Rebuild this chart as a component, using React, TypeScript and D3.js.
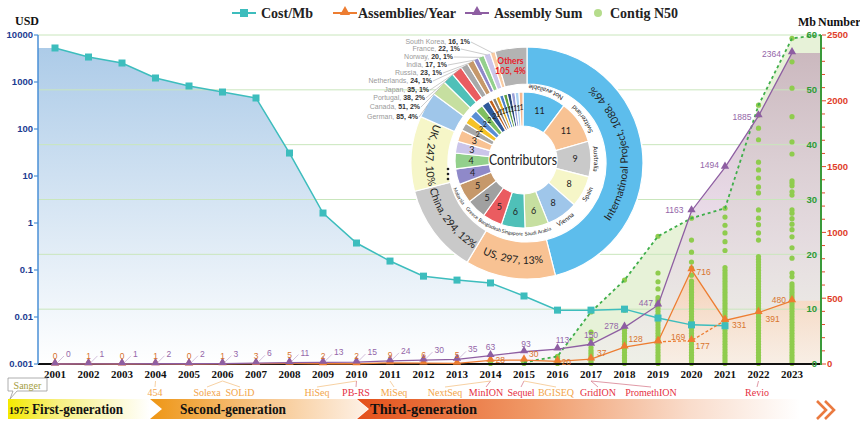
import { useEffect, useRef } from 'react'
import * as d3 from 'd3'

const years = [2001, 2002, 2003, 2004, 2005, 2006, 2007, 2008, 2009, 2010, 2011, 2012, 2013, 2014, 2015, 2016, 2017, 2018, 2019, 2020, 2021, 2022, 2023]

// cost per Mb (USD), only up to 2021
const costYears = [2001, 2002, 2003, 2004, 2005, 2006, 2007, 2008, 2009, 2010, 2011, 2012, 2013, 2014, 2015, 2016, 2017, 2018, 2019, 2020, 2021]
const costPerMb = [5292, 3400, 2535, 1216, 822, 612, 457, 30.8, 1.63, 0.375, 0.155, 0.074, 0.061, 0.053, 0.028, 0.014, 0.014, 0.0147, 0.0095, 0.0068, 0.0065]

const assembliesPerYear = [0, 1, 0, 1, 0, 1, 3, 5, 2, 2, 9, 6, 5, 28, 30, 20, 37, 128, 169, 716, 331, 391, 480]
const assemblySum = [0, 1, 1, 2, 2, 3, 6, 11, 13, 15, 24, 30, 35, 63, 93, 113, 150, 278, 447, 1163, 1494, 1885, 2364]
const altYears = [2019, 2020, 2021]
const assembliesAlt = [169, 177, 331]

const n50MaxYears = [2015, 2016, 2017, 2018, 2019, 2020, 2021, 2022, 2023]
const n50Max = [0.3, 1.4, 9.5, 15.3, 23.3, 26.6, 28.4, 47.2, 59.4]

const n50Dots: [number, number[]][] = [
    [2014, [0.1, 0.3]],
    [2015, [0.1, 0.3, 0.5]],
    [2016, [0.1, 0.4, 0.7, 1.0, 1.4]],
    [2017, [0.1, 0.5, 0.9, 1.3, 1.7, 2.1, 2.5, 3.0, 4.5, 5.8, 9.5]],
    [2018, [0.1, 0.6, 1.1, 1.6, 2.1, 2.6, 3.1, 3.6, 4.1, 4.6, 5.1, 5.6, 6.1, 6.6, 9.8, 15.3]],
    [2019, [0.1, 0.6, 1.1, 1.6, 2.1, 2.6, 3.1, 3.6, 4.1, 4.6, 5.1, 5.6, 6.1, 6.6, 7.1, 7.6, 8.1, 8.6, 9.1, 9.6, 10.1, 10.6, 11.1, 11.6, 12.1, 13.7, 15.0, 16.6, 23.3]],
    [2020, [0.1, 0.6, 1.1, 1.6, 2.1, 2.6, 3.1, 3.6, 4.1, 4.6, 5.1, 5.6, 6.1, 6.6, 7.1, 7.6, 8.1, 8.6, 9.1, 9.6, 10.1, 10.6, 11.1, 11.6, 12.1, 12.6, 13.1, 13.6, 14.1, 14.6, 15.1, 16.2, 17.5, 18.6, 20.4, 22.6, 26.6]],
    [2021, [0.1, 0.6, 1.1, 1.6, 2.1, 2.6, 3.1, 3.6, 4.1, 4.6, 5.1, 5.6, 6.1, 6.6, 7.1, 7.6, 8.1, 8.6, 9.1, 9.6, 10.1, 10.6, 11.1, 11.6, 12.1, 12.6, 13.1, 13.6, 14.1, 14.6, 15.1, 15.6, 16.1, 16.6, 17.1, 17.6, 20.7, 22.3, 23.9, 25.3, 26.8, 28.4]],
    [2022, [0.1, 0.6, 1.1, 1.6, 2.1, 2.6, 3.1, 3.6, 4.1, 4.6, 5.1, 5.6, 6.1, 6.6, 7.1, 7.6, 8.1, 8.6, 9.1, 9.6, 10.1, 10.6, 11.1, 11.6, 12.1, 12.6, 13.1, 13.6, 14.1, 14.6, 15.1, 15.6, 16.1, 16.6, 17.1, 17.6, 18.1, 18.6, 19.1, 19.6, 22.6, 23.9, 25.4, 26.6, 28.1, 31.2, 32.3, 33.9, 35.4, 36.8, 40.9, 43.0, 45.4, 47.2]],
    [2023, [0.1, 0.6, 1.1, 1.6, 2.1, 2.6, 3.1, 3.6, 4.1, 4.6, 5.1, 5.6, 6.1, 6.6, 7.1, 7.6, 8.1, 8.6, 9.1, 9.6, 10.1, 10.6, 11.1, 11.6, 12.1, 12.6, 13.1, 13.6, 14.1, 14.6, 15.9, 16.6, 19.3, 21.2, 23.2, 24.5, 25.5, 26.5, 27.5, 28.1, 30.8, 31.4, 32.5, 33.0, 33.4, 38.3, 40.5, 45.1, 50.3, 55.1, 59.4]]
]

const costTicks = [10000, 1000, 100, 10, 1, 0.1, 0.01, 0.001]
const costTickLabels = ['10000', '1000', '100', '10', '1', '0.1', '0.01', '0.001']
const mbTicks = [0, 10, 20, 30, 40, 50, 60]
const numberTicks = [0, 500, 1000, 1500, 2000, 2500]

const countries = ['Internatinoal Project', 'US', 'China', 'UK', 'German', 'Canada', 'Portugal', 'Japan', 'Netherlands', 'Russia', 'India', 'Norway', 'France', 'South Korea', 'Others']
const countryCounts = [1088, 297, 294, 247, 85, 51, 38, 35, 24, 23, 17, 20, 22, 16, 105]
const countryShares = ['46%', '13%', '12%', '10%', '4%', '2%', '2%', '1%', '1%', '1%', '1%', '1%', '1%', '1%', '4%']
const countryColors = ['#5dbdec', '#f8c293', '#c9c9c9', '#f6f6c8', '#9fc6ea', '#c6dfa0', '#4fc0b8', '#ea5c60', '#a8a8a8', '#c6986a', '#8f89c9', '#93d08c', '#cbc5ea', '#f9cba3', '#b3b3b3']

const contributorCounts = [11, 11, 9, 8, 8, 6, 6, 5, 5, 5, 4, 4, 3, 3, 2, 2, 2, 2, 2, 1, 1, 1, 1, 1, 1, 1, 1, 1]
const contributorNames = ['Not available', 'Switzerland', 'Australia', 'Spain', 'Vienna', 'Saudi Arabia', 'Singapore', 'Bangladesh', 'Greece', 'Malaysia']
const contributorColors = ['#5dbdec', '#f8c293', '#c9c9c9', '#f6f6c8', '#9fc6ea', '#c6dfa0', '#4fc0b8', '#ea5c60', '#a0a0a0', '#c6986a', '#8f89c9', '#93d08c', '#cbc5ea', '#f8c293', '#a8a8a8', '#f5c226', '#5a8fd4', '#7fbf60', '#2f5a9a', '#c0601a', '#808080', '#e8b020', '#4a80c8', '#60a040', '#2a4a80', '#9aa0d8', '#a8d0f0', '#f4b890']

const platformNames = ['454', 'Solexa', 'SOLiD', 'HiSeq', 'PB-RS', 'MiSeq', 'NextSeq', 'MinION', 'Sequel', 'BGISEQ', 'GridION', 'PromethION', 'Revio']
const platformYears = [2004, 2006, 2006, 2010, 2010, 2011, 2014, 2014, 2015, 2015, 2017, 2017, 2022]
const platformGen = [2, 2, 2, 2, 3, 2, 2, 3, 3, 2, 3, 3, 3]

const SERIF = "'Liberation Serif', 'Times New Roman', serif"
const SANS = "'Liberation Sans', Arial, sans-serif"
const CAL = "Lato, 'Open Sans', sans-serif"

const TEAL = '#3dbdbd'
const ORANGE = '#ed7d31'
const PURPLE = '#8e5ea2'
const GREEN = '#8fcc4e'

export default function App() {
    const svgRef = useRef<SVGSVGElement>(null)

    useEffect(() => {
        if (!svgRef.current) return
        const svg = d3.select(svgRef.current)
        svg.selectAll('*').remove()

        const X0 = 38, X1 = 821, Y0 = 364
        const x = d3.scalePoint<number>().domain(years).range([55, 792])
        const yCost = d3.scaleLog().domain([0.001, 10000]).range([Y0, 35])
        const yNum = d3.scaleLinear().domain([0, 2500]).range([Y0, 35])
        const yMb = d3.scaleLinear().domain([0, 60]).range([Y0, 35])
        const px = (yr: number) => x(yr) as number

        // gradients
        const defs = svg.append('defs')
        const grad = (id: string, x1: number, y1: number, x2: number, y2: number, stops: [number, string, number][]) => {
            const g = defs.append('linearGradient').attr('id', id)
                .attr('gradientUnits', 'userSpaceOnUse')
                .attr('x1', x1).attr('y1', y1).attr('x2', x2).attr('y2', y2)
            stops.forEach(([o, c, op]) => g.append('stop').attr('offset', o).attr('stop-color', c).attr('stop-opacity', op))
        }
        grad('costFill', 0, 35, 0, 364, [[0, '#a9c9e7', 1], [0.55, '#d9e7f4', 1], [1, '#ffffff', 1]])
        grad('sumFill', 0, 53, 0, 364, [[0, '#c4aab8', 0.8], [0.6, '#e3cfe3', 0.65], [1, '#f6edf6', 0.5]])
        grad('yearFill', 0, 270, 0, 364, [[0, '#f8cba9', 0.8], [1, '#fdeee4', 0.65]])
        grad('gen1', 8, 0, 150, 0, [[0, '#f4e900', 1], [0.35, '#f7ef80', 1], [1, '#ffffff', 1]])
        grad('gen2', 150, 0, 360, 0, [[0, '#ee9615', 1], [0.55, '#f7c68d', 1], [1, '#fdeee0', 1]])
        grad('gen3', 357, 0, 800, 0, [[0, '#e4501a', 1], [0.4, '#f09a68', 1], [0.75, '#f9dccb', 1], [1, '#ffffff', 1]])

        const area = d3.area<[number, number]>().x(d => d[0]).y0(Y0).y1(d => d[1])
        const line = d3.line<[number, number]>().x(d => d[0]).y(d => d[1])

        // cost area
        const costPts: [number, number][] = costYears.map((yr, i) => [px(yr), yCost(costPerMb[i])])
        svg.append('path')
            .attr('d', area([[X0, costPts[0][1]], ...costPts]))
            .attr('fill', 'url(#costFill)')

        // N50 envelope area
        const n50Pts: [number, number][] = n50MaxYears.map((yr, i) => [px(yr), yMb(n50Max[i])])
        svg.append('path')
            .attr('d', area([...n50Pts, [X1, yMb(60)]]))
            .attr('fill', '#e7f2d8')

        // assembly sum area
        const sumPts: [number, number][] = years.map((yr, i) => [px(yr), yNum(assemblySum[i])])
        svg.append('path')
            .attr('d', area([...sumPts.slice(12), [X1, sumPts[22][1]]]))
            .attr('fill', 'url(#sumFill)')

        // assemblies per year area
        const yearPts: [number, number][] = years.map((yr, i) => [px(yr), yNum(assembliesPerYear[i])])
        svg.append('path')
            .attr('d', area([...yearPts.slice(18), [X1, yearPts[22][1]]]))
            .attr('fill', 'url(#yearFill)')

        // grid lines (Mb axis)
        svg.append('g').selectAll('line').data(mbTicks.slice(1)).enter().append('line')
            .attr('x1', X0).attr('x2', X1)
            .attr('y1', d => yMb(d)).attr('y2', d => yMb(d))
            .attr('stroke', '#c9e6bc').attr('stroke-width', 1)

        // contig N50 dots
        const dots: [number, number][] = []
        n50Dots.forEach(([yr, vals]) => vals.forEach(v => dots.push([yr, v])))
        svg.append('g').selectAll('circle').data(dots).enter().append('circle')
            .attr('cx', d => px(d[0])).attr('cy', d => yMb(d[1]))
            .attr('r', 2.6).attr('fill', GREEN)

        svg.append('path')
            .attr('d', line([...n50Pts, [X1, yMb(60)]]))
            .attr('fill', 'none').attr('stroke', '#3fae4a')
            .attr('stroke-width', 1.8).attr('stroke-dasharray', '3,3')

        // cost line + squares
        svg.append('path').attr('d', line(costPts))
            .attr('fill', 'none').attr('stroke', TEAL).attr('stroke-width', 1.5)
        svg.append('g').selectAll('rect').data(costPts).enter().append('rect')
            .attr('x', d => d[0] - 3.5).attr('y', d => d[1] - 3.5)
            .attr('width', 7).attr('height', 7).attr('fill', TEAL)

        // axes frame
        svg.append('line').attr('x1', X0).attr('x2', X1).attr('y1', Y0).attr('y2', Y0)
            .attr('stroke', '#111').attr('stroke-width', 2)
        svg.append('line').attr('x1', X0).attr('x2', X0).attr('y1', 35).attr('y2', Y0)
            .attr('stroke', '#4a8fd6').attr('stroke-width', 1.5)
        svg.append('line').attr('x1', X1).attr('x2', X1).attr('y1', 35).attr('y2', Y0 + 1)
            .attr('stroke', '#3a9a3a').attr('stroke-width', 2)

        // orange lines
        svg.append('path').attr('d', line(yearPts))
            .attr('fill', 'none').attr('stroke', ORANGE).attr('stroke-width', 1.3)
        const altPts: [number, number][] = altYears.map((yr, i) => [px(yr), yNum(assembliesAlt[i])])
        svg.append('path').attr('d', line(altPts))
            .attr('fill', 'none').attr('stroke', ORANGE).attr('stroke-width', 1.3).attr('stroke-dasharray', '3,2')

        // purple line
        svg.append('path').attr('d', line(sumPts))
            .attr('fill', 'none').attr('stroke', PURPLE).attr('stroke-width', 1.3)

        const tri = d3.symbol().type(d3.symbolTriangle).size(30)
        svg.append('g').selectAll('path').data([...yearPts, ...altPts]).enter().append('path')
            .attr('d', tri()).attr('transform', d => `translate(${d[0]},${d[1] - 1})`).attr('fill', ORANGE)
        svg.append('g').selectAll('path').data(sumPts).enter().append('path')
            .attr('d', tri()).attr('transform', d => `translate(${d[0]},${d[1] - 1})`).attr('fill', PURPLE)

        // data labels
        const orangeOff: [number, number, string][] = [
            ...d3.range(13).map(() => [0, -5, 'middle'] as [number, number, string]),
            [5, 3, 'start'], [5, -3, 'start'], [4, 4, 'start'], [6, -3, 'start'], [4, -5, 'start'],
            [13, -2, 'start'], [5, 5, 'start'], [7, 8, 'start'], [7, 9, 'start'], [-6, 2, 'end']
        ]
        const lbl = svg.append('g').style('font-family', SANS).style('font-size', '8.5px')
        yearPts.forEach((p, i) => {
            const [dx, dy, anc] = orangeOff[i]
            lbl.append('text').attr('x', p[0] + dx).attr('y', p[1] + dy)
                .attr('text-anchor', anc).attr('fill', '#d8742e').text(assembliesPerYear[i])
        })
        lbl.append('text').attr('x', altPts[1][0] + 4).attr('y', altPts[1][1] + 8)
            .attr('fill', '#d8742e').text(assembliesAlt[1])

        const purpleOff: [number, number, string][] = [
            [0, -6, 'middle'], [2, -5, 'middle'], [5, -6, 'middle'], [0, -6, 'middle'],
            [-6, 2, 'end'], [-5, 1, 'end'], [-8, 2, 'end'], [-6, 1, 'end'], [-7, 4, 'end'], [-11, 4, 'end']
        ]
        sumPts.forEach((p, i) => {
            if (i < 13) {
                lbl.append('line').attr('x1', p[0] + 2).attr('y1', p[1] - 1).attr('x2', p[0] + 9).attr('y2', p[1] - 8)
                    .attr('stroke', '#b596c4').attr('stroke-width', 0.6)
                lbl.append('text').attr('x', p[0] + 11).attr('y', p[1] - 7)
                    .attr('fill', '#9466a8').text(assemblySum[i])
            } else {
                const [dx, dy, anc] = purpleOff[i - 13]
                lbl.append('text').attr('x', p[0] + dx).attr('y', p[1] + dy)
                    .attr('text-anchor', anc).attr('fill', '#9466a8').text(assemblySum[i])
            }
        })

        // left axis
        const la = svg.append('g').style('font-family', SANS).style('font-weight', 'bold').style('font-size', '9.5px')
        costTicks.forEach((t, i) => {
            la.append('line').attr('x1', X0 - 4).attr('x2', X0).attr('y1', yCost(t)).attr('y2', yCost(t))
                .attr('stroke', '#4a8fd6').attr('stroke-width', 1.2)
            la.append('text').attr('x', X0 - 5).attr('y', yCost(t) + 3.3).attr('text-anchor', 'end')
                .attr('fill', '#1d3c92').text(costTickLabels[i])
        })

        // right axes
        const ra = svg.append('g').style('font-family', SANS).style('font-weight', 'bold').style('font-size', '9.5px')
        mbTicks.forEach(t => {
            ra.append('text').attr('x', X1 - 4).attr('y', yMb(t) + 3.3).attr('text-anchor', 'end')
                .attr('fill', '#2e9a36').text(t)
        })
        d3.range(0, 2501, 100).forEach(t => {
            ra.append('line').attr('x1', X1 + 1).attr('x2', X1 + (t % 500 === 0 ? 5 : 4))
                .attr('y1', yNum(t)).attr('y2', yNum(t)).attr('stroke', '#e0482a').attr('stroke-width', 1)
        })
        numberTicks.forEach(t => {
            ra.append('text').attr('x', X1 + 6).attr('y', yNum(t) + 3.3)
                .attr('fill', '#e0402a').text(t)
        })

        // axis titles
        const tt = svg.append('g').style('font-family', SERIF).style('font-weight', 'bold').style('font-size', '12px').attr('fill', '#111')
        tt.append('text').attr('x', 15).attr('y', 25).text('USD')
        tt.append('text').attr('x', 798).attr('y', 26).text('Mb')
        tt.append('text').attr('x', 818).attr('y', 26).text('Number')

        // year labels
        const yl = svg.append('g').style('font-family', SERIF).style('font-weight', 'bold').style('font-size', '11px')
        years.forEach(yr => {
            yl.append('text').attr('x', px(yr)).attr('y', 378).attr('text-anchor', 'middle').attr('fill', '#111').text(yr)
        })

        // legend
        const lg = svg.append('g').style('font-family', SERIF).style('font-weight', 'bold').style('font-size', '14px').attr('fill', '#222')
        lg.append('line').attr('x1', 232).attr('x2', 256).attr('y1', 13).attr('y2', 13).attr('stroke', TEAL).attr('stroke-width', 2)
        lg.append('rect').attr('x', 240).attr('y', 9).attr('width', 8).attr('height', 8).attr('fill', TEAL)
        lg.append('text').attr('x', 261).attr('y', 18).text('Cost/Mb')
        lg.append('line').attr('x1', 333).attr('x2', 357).attr('y1', 13).attr('y2', 13).attr('stroke', ORANGE).attr('stroke-width', 2)
        lg.append('path').attr('d', d3.symbol().type(d3.symbolTriangle).size(45)()).attr('transform', 'translate(345,12)').attr('fill', ORANGE)
        lg.append('text').attr('x', 358).attr('y', 18).text('Assemblies/Year')
        lg.append('line').attr('x1', 465).attr('x2', 489).attr('y1', 13).attr('y2', 13).attr('stroke', PURPLE).attr('stroke-width', 2)
        lg.append('path').attr('d', d3.symbol().type(d3.symbolTriangle).size(45)()).attr('transform', 'translate(477,12)').attr('fill', PURPLE)
        lg.append('text').attr('x', 494).attr('y', 18).text('Assembly Sum')
        lg.append('circle').attr('cx', 598).attr('cy', 13).attr('r', 4).attr('fill', '#b5dc8c')
        lg.append('text').attr('x', 610).attr('y', 18).text('Contig N50')

        // ---- donut ----
        const oc = [527, 163]
        const ic = [523, 160]
        const rad = Math.PI / 180
        const polar = (c: number[], r: number, a: number) => [c[0] + r * Math.sin(a), c[1] - r * Math.cos(a)]
        const arcD = (c: number[], r: number, a0: number, a1: number) => {
            // from a0 to a1 (degrees); sweep 1 if increasing
            const [sx, sy] = polar(c, r, a0 * rad)
            const [ex, ey] = polar(c, r, a1 * rad)
            const large = Math.abs(a1 - a0) > 180 ? 1 : 0
            return `M${sx},${sy} A${r},${r} 0 ${large} ${a1 > a0 ? 1 : 0} ${ex},${ey}`
        }

        const dg = svg.append('g')
        dg.append('circle').attr('cx', oc[0]).attr('cy', oc[1]).attr('r', 117).attr('fill', '#fff')

        const outerPie = d3.pie<number>().sort(null).value(d => d)(countryCounts)
        const outerArc = d3.arc<d3.PieArcDatum<number>>().innerRadius(79).outerRadius(116)
        dg.append('g').attr('transform', `translate(${oc[0]},${oc[1]})`)
            .selectAll('path').data(outerPie).enter().append('path')
            .attr('d', outerArc).attr('fill', (d, i) => countryColors[i])
            .attr('stroke', '#fff').attr('stroke-width', 1.2)

        // curved labels on big segments
        outerPie.slice(0, 4).forEach((d, i) => {
            const a0 = d.startAngle / rad, a1 = d.endAngle / rad
            const id = `oLab${i}`
            defs.append('path').attr('id', id).attr('d', arcD(oc, 101, a1 + 5, a0 - 5))
            dg.append('text').style('font-family', CAL).style('font-size', '10.5px').attr('fill', '#222')
                .append('textPath').attr('href', `#${id}`).attr('startOffset', '50%').attr('text-anchor', 'middle')
                .text(`${countries[i]}, ${countryCounts[i]}, ${countryShares[i]}`)
        })

        // others label
        const oth = outerArc.centroid(outerPie[14])
        const othT = dg.append('text').attr('text-anchor', 'middle').style('font-family', CAL).style('font-size', '8.5px')
            .style('font-weight', 'bold').attr('fill', '#e8202a')
        othT.append('tspan').attr('x', oc[0] + oth[0] - 3).attr('y', oc[1] + oth[1] - 2).text('Others')
        othT.append('tspan').attr('x', oc[0] + oth[0] - 3).attr('y', oc[1] + oth[1] + 8).text(`${countryCounts[14]}, ${countryShares[14]}`)

        // small country labels with leaders
        const smallEndX = [418, 420, 425, 429, 432, 442, 447, 453, 460, 470]
        const smallY = [119, 109, 100, 92, 83, 75, 67, 59, 51, 44]
        outerPie.slice(4, 14).forEach((d, k) => {
            const i = k + 4
            const mid = (d.startAngle + d.endAngle) / 2
            const [ex, ey] = polar(oc, 115, mid)
            dg.append('line').attr('x1', smallEndX[k] + 1).attr('y1', smallY[k] - 2)
                .attr('x2', ex).attr('y2', ey).attr('stroke', '#aaa').attr('stroke-width', 0.6)
            const t = dg.append('text').attr('x', smallEndX[k]).attr('y', smallY[k])
                .attr('text-anchor', 'end').style('font-family', SANS).style('font-size', '7px')
            t.append('tspan').attr('fill', '#9a9a9a').text(`${countries[i]}, `)
            t.append('tspan').attr('fill', '#333').style('font-weight', 'bold').text(`${countryCounts[i]}, ${countryShares[i]}`)
        })

        // inner donut
        const innerPie = d3.pie<number>().sort(null).value(d => d)(contributorCounts)
        const innerArc = d3.arc<d3.PieArcDatum<number>>().innerRadius(34).outerRadius(68)
        const ig = dg.append('g').attr('transform', `translate(${ic[0]},${ic[1]})`)
        ig.selectAll('path').data(innerPie).enter().append('path')
            .attr('d', innerArc).attr('fill', (d, i) => contributorColors[i])
            .attr('stroke', '#fff').attr('stroke-width', 1.2)
        const numArc = d3.arc<d3.PieArcDatum<number>>().innerRadius(52).outerRadius(52)
        ig.selectAll('text').data(innerPie).enter().append('text')
            .attr('transform', d => `translate(${numArc.centroid(d)})`)
            .attr('dy', '0.35em').attr('text-anchor', 'middle')
            .style('font-family', CAL).style('font-size', d => d.data >= 3 ? '9px' : '7px')
            .attr('fill', '#222').text(d => d.data)

        innerPie.slice(0, contributorNames.length).forEach((d, i) => {
            const mid = (d.startAngle + d.endAngle) / 2 / rad
            const outward = mid > 80 && mid < 100
            const id = `iLab${i}`
            defs.append('path').attr('id', id)
                .attr('d', outward ? arcD(ic, 71, mid - 40, mid + 40) : arcD(ic, 75.5, mid + 40, mid - 40))
            dg.append('text').style('font-family', CAL).style('font-size', i < 5 ? '6.5px' : '5px').attr('fill', '#222')
                .append('textPath').attr('href', `#${id}`).attr('startOffset', '50%').attr('text-anchor', 'middle')
                .text(contributorNames[i])
        })
        ;[169, 174, 179].forEach(yy => {
            dg.append('circle').attr('cx', 448).attr('cy', yy).attr('r', 1.3).attr('fill', '#222')
        })
        dg.append('text').attr('x', ic[0]).attr('y', ic[1] + 5).attr('text-anchor', 'middle')
            .style('font-family', CAL).style('font-size', '15px').attr('fill', '#222')
            .attr('textLength', 68).attr('lengthAdjust', 'spacingAndGlyphs').text('Contributors')

        // ---- timeline ----
        const tl = svg.append('g')
        tl.append('path').attr('d', 'M8,399 L150,399 L162,409 L150,419 L8,419 Z').attr('fill', 'url(#gen1)')
        tl.append('path').attr('d', 'M150,399 L356,399 L368,409 L356,419 L150,419 L162,409 Z').attr('fill', 'url(#gen2)')
        tl.append('path').attr('d', 'M357,399 L805,399 L805,419 L357,419 L369,409 Z').attr('fill', 'url(#gen3)')
        ;[817, 825].forEach(cx => {
            tl.append('path').attr('d', `M${cx},401 L${cx + 9},410 L${cx},419`)
                .attr('fill', 'none').attr('stroke', '#ea7a40').attr('stroke-width', 2.6)
        })
        const gt = tl.append('g').style('font-family', SERIF).style('font-weight', 'bold').attr('fill', '#111')
        gt.append('text').attr('x', 9).attr('y', 414).style('font-size', '10px').text('1975')
        gt.append('text').attr('x', 32).attr('y', 414).style('font-size', '14px').attr('textLength', 91).attr('lengthAdjust', 'spacingAndGlyphs').text('First-generation')
        gt.append('text').attr('x', 180).attr('y', 414).style('font-size', '14px').attr('textLength', 106).attr('lengthAdjust', 'spacingAndGlyphs').text('Second-generation')
        gt.append('text').attr('x', 370).attr('y', 414).style('font-size', '14px').attr('textLength', 107).attr('lengthAdjust', 'spacingAndGlyphs').text('Third-generation')

        // Sanger callout
        tl.append('path').attr('d', 'M8,378 L47,378 L47,391 L17,391 L10,399 L13,391 L8,391 Z')
            .attr('fill', '#fff').attr('stroke', '#999').attr('stroke-width', 0.8)
        tl.append('text').attr('x', 27.5).attr('y', 388.5).attr('text-anchor', 'middle')
            .style('font-family', SERIF).style('font-size', '10px').attr('fill', '#a39d3e').text('Sanger')

        // platforms
        const platX = [155, 207, 240, 317, 356, 394, 445, 486, 521, 556, 598, 651, 757]
        platformNames.forEach((n, i) => {
            const col = platformGen[i] === 2 ? '#f2a54a' : '#e5303f'
            const lc = platformGen[i] === 2 ? '#f5c58c' : '#d88090'
            tl.append('line').attr('x1', px(platformYears[i])).attr('y1', 381)
                .attr('x2', platX[i]).attr('y2', 387).attr('stroke', lc).attr('stroke-width', 0.8)
            tl.append('text').attr('x', platX[i]).attr('y', 396).attr('text-anchor', 'middle')
                .style('font-family', SERIF).style('font-size', '10px').attr('fill', col).text(n)
        })
    }, [])

    return (
        <svg ref={svgRef} width={860} height={426}
            style={{ position: 'absolute', left: 0, top: 0, background: '#fff' }} />
    )
}
